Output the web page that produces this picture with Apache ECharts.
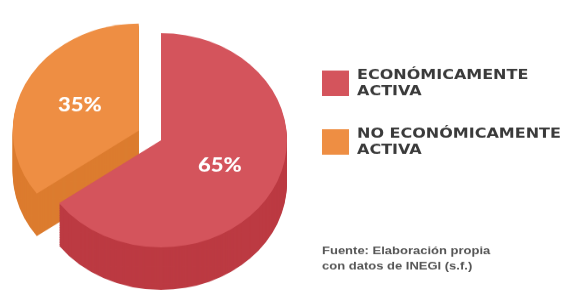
<!DOCTYPE html>
<html>
<head>
<meta charset="utf-8">
<script src="https://cdn.jsdelivr.net/npm/echarts@6/dist/echarts.min.js"></script>
<style>
  html, body { margin: 0; background: #fff; overflow: hidden; width: 572px; height: 295px; }
  /* the picture is seen from a tilted angle: squash the whole drawing vertically */
  #chart { width: 572px; height: 347px; transform: scaleY(0.85); transform-origin: 0 0; }
</style>
</head>
<body>
<div id="chart"></div>
<script>
const categories = ['ECONÓMICAMENTE ACTIVA', 'NO ECONÓMICAMENTE ACTIVA'];
const values = [65, 35];
const explodedName = 'NO ECONÓMICAMENTE ACTIVA';
const sourceLines = ['Fuente: Elaboración propia', 'con datos de INEGI (s.f.)'];

const topColors = ['#D4545C', '#EE8E43'];
const sideColors = ['#BC3A42', '#DC7C2F'];

const pieCenter = [161, 165];
const pieRadius = 126;
const depth = 50;
const layerStep = 2;

const buildData = (colors) => categories.map((name, i) => ({
    name: name,
    value: values[i],
    selected: name === explodedName,
    itemStyle: { color: colors[i] }
}));

const basePie = {
    type: 'pie',
    radius: pieRadius,
    startAngle: 90,
    clockwise: true,
    selectedMode: 'single',
    selectedOffset: 25,
    animation: false,
    silent: true,
    emphasis: { disabled: true },
    itemStyle: { borderWidth: 0 },
    labelLine: { show: false }
};

const chartInit = () => {
    var chartDom = document.getElementById('chart');
    var myChart = echarts.init(chartDom);
    var option;

    var series = [Object.assign({}, basePie, {
        name: 'top',
        center: pieCenter,
        z: 10,
        data: buildData(topColors),
        label: {
            show: true,
            position: 'inside',
            formatter: '{d}%',
            color: '#fff',
            fontFamily: 'Lato',
            fontWeight: 900,
            fontSize: 22
        }
    })];

    for (var k = depth; k > 0; k -= layerStep) {
        series.push(Object.assign({}, basePie, {
            name: 'side' + k,
            center: [pieCenter[0], pieCenter[1] + k],
            z: 2,
            data: buildData(sideColors),
            label: { show: false }
        }));
    }

    option = {
        backgroundColor: '#fff',
        title: {
            text: sourceLines.join('\n'),
            left: 317,
            top: 281,
            textStyle: {
                fontFamily: 'Liberation Sans',
                fontSize: 13,
                fontWeight: 'bold',
                color: '#555',
                lineHeight: 18
            }
        },
        legend: {
            data: categories,
            orient: 'vertical',
            left: 317,
            top: 74,
            icon: 'rect',
            itemWidth: 27,
            itemHeight: 30,
            itemGap: 31,
            selectedMode: false,
            formatter: function (name) {
                return name.replace(' ACTIVA', '\nACTIVA');
            },
            textStyle: {
                fontFamily: 'DejaVu Sans',
                fontWeight: 'bold',
                fontSize: 16,
                lineHeight: 19,
                color: '#3a3a3a',
                padding: [0, 0, 0, 3]
            }
        },
        series: series
    };

    option && myChart.setOption(option);
};

chartInit();
</script>
</body>
</html>
